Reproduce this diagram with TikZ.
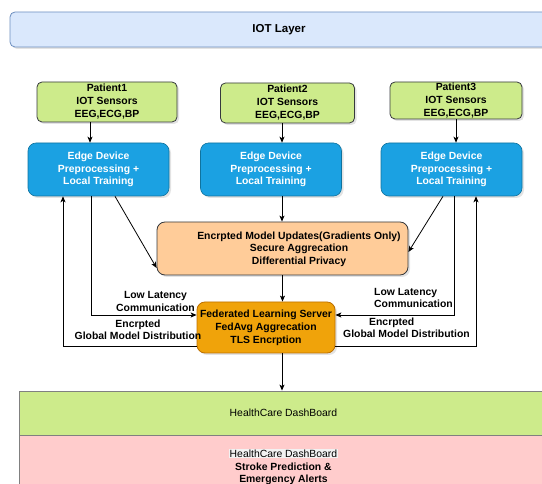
\documentclass[tikz,border=0pt]{standalone}
\usepackage{fontspec}
\setmainfont{Liberation Sans}
\usetikzlibrary{arrows.meta,shadows}

\definecolor{layerfill}{HTML}{DAE8FC}
\definecolor{layerline}{HTML}{6C8EBF}
\definecolor{limefill}{HTML}{CDEB8B}
\definecolor{darkline}{HTML}{36393D}
\definecolor{edgefill}{HTML}{1BA1E2}
\definecolor{edgeline}{HTML}{10739E}
\definecolor{peachfill}{HTML}{FFCC99}
\definecolor{amberfill}{HTML}{F0A30A}
\definecolor{amberline}{HTML}{BD7000}
\definecolor{pinkfill}{HTML}{FFCCCC}

\begin{document}
\begin{tikzpicture}[x=1pt, y=-1pt,
        boxshadow/.style={drop shadow={opacity=0.22, shadow xshift=2pt, shadow yshift=-2pt}},
        layer/.style={rectangle, rounded corners=5pt, draw=layerline, fill=layerfill, line width=0.8pt, boxshadow, inner sep=0pt},
        patient/.style={rectangle, rounded corners=5pt, draw=darkline, fill=limefill, line width=0.8pt, boxshadow, align=center, inner sep=0pt, font=\bfseries\fontsize{10.4}{13}\selectfont},
        edgedev/.style={rectangle, rounded corners=8pt, draw=edgeline, fill=edgefill, line width=0.6pt, boxshadow, align=center, inner sep=0pt, text=white, font=\bfseries\fontsize{10.4}{12.6}\selectfont},
        secure/.style={rectangle, rounded corners=8pt, draw=darkline, fill=peachfill, line width=0.8pt, boxshadow, inner sep=0pt},
        server/.style={rectangle, rounded corners=8pt, draw=amberline, fill=amberfill, line width=0.8pt, boxshadow, align=center, inner sep=0pt, font=\bfseries\fontsize{10.4}{13}\selectfont},
        boardbox/.style={rectangle, draw=gray, line width=0.8pt, inner sep=0pt},
        boxtext/.style={align=center, inner sep=0pt, font=\bfseries\fontsize{10.4}{12.6}\selectfont},
        linklabel/.style={inner sep=1pt, font=\bfseries\fontsize{10.4}{12.2}\selectfont},
        arr/.style={-{Stealth[length=6pt, width=5pt, inset=1.5pt]}, line width=0.8pt, draw=black}
        ]

        \useasboundingbox (0,0) rectangle (542,484);
        \clip (0,0) rectangle (542,484);

        % layers
        \node[layer, minimum width=538pt, minimum height=35pt, font=\bfseries\fontsize{11.5}{14}\selectfont] (iot) at (279,29.5) {IOT Layer};

        % patients
        \node[patient, minimum width=140pt, minimum height=40pt] (p1) at (107,102)   {Patient1\\IOT Sensors\\EEG,ECG,BP};
        \node[patient, minimum width=134pt, minimum height=40pt] (p2) at (287.5,103) {Patient2\\IOT Sensors\\EEG,ECG,BP};
        \node[patient, minimum width=132pt, minimum height=37pt] (p3) at (456,100.5) {Patient3\\IOT Sensors\\EEG,ECG,BP};

        % edge devices
        \node[edgedev, minimum width=141pt, minimum height=53pt] (edge1) at (98.5,169.5) {Edge Device\\Preprocessing +\\Local Training};
        \node[edgedev, minimum width=141pt, minimum height=53pt] (edge2) at (271,169.5)  {Edge Device\\Preprocessing +\\Local Training};
        \node[edgedev, minimum width=141pt, minimum height=53pt] (edge3) at (451.5,169.5) {Edge Device\\Preprocessing +\\Local Training};

        % aggregation and server
        \node[secure, minimum width=251pt, minimum height=53pt] (enc) at (282.5,248.5) {};
        \node[boxtext] (enctext) at (299,249) {Encrpted Model Updates(Gradients Only)\\Secure Aggrecation\\Differential Privacy};
        \node[server, minimum width=138pt, minimum height=51pt] (fl) at (266,327.5) {Federated Learning Server\\FedAvg Aggrecation\\TLS Encrption};

        % dashboard
        \node[boardbox, fill=limefill, minimum width=529pt, minimum height=44pt, font=\fontsize{10.4}{13}\selectfont] (board) at (283.5,413) {HealthCare DashBoard};
        \node[boardbox, fill=pinkfill, minimum width=529pt, minimum height=64pt, align=center, font=\bfseries\fontsize{10.4}{12.8}\selectfont] (alerts) at (283.5,467)
            {{\setlength{\fboxsep}{1pt}\colorbox{gray!10}{\mdseries HealthCare DashBoard}}\\Stroke Prediction \&\\Emergency Alerts};

        %Lines
        \draw[arr] ([xshift=-17pt]p1.south) -- ([xshift=-17pt]p1.south |- edge1.north);
        \draw[arr] ([xshift=-5.5pt]p2.south) -- ([xshift=-5.5pt]p2.south |- edge2.north);
        \draw[arr] (p3.south) -- (p3.south |- edge3.north);

        \draw[arr] ([xshift=16.5pt]edge1.south) -- ([yshift=-19.5pt]enc.west);
        \draw[arr] ([xshift=11pt]edge2.south) -- ([xshift=11pt]edge2.south |- enc.north);
        \draw[arr] ([xshift=-8.5pt]edge3.south) -- ([yshift=-3.5pt]enc.east);

        \draw[arr] (enc.south) -- (enc.south |- fl.north);

        \draw[arr] ([xshift=-7.5pt]edge1.south) |- ([yshift=12.5pt]fl.west);
        \draw[arr] ([yshift=-18.5pt]fl.west) -| ([xshift=-35.5pt]edge1.south);
        \draw[arr] ([xshift=2.5pt]edge3.south) |- ([yshift=12.5pt]fl.east);
        \draw[arr] ([yshift=-18.5pt]fl.east) -| ([xshift=24.5pt]edge3.south);

        \draw[arr] ([xshift=16pt]fl.south) -- ([xshift=16pt]fl.south |- board.north);

        % link labels
        \node[linklabel, align=center] (lowlatL) at (155.5,301.5) {Low Latency\\Communication};
        \node[linklabel, align=left, anchor=west] (lowlatR) at (373,298) {Low Latency\\Communication};
        \node[linklabel, align=center] (globalL) at (138,330) {Encrpted\\Global Model Distribution};
        \node[linklabel, align=left, anchor=west] (globalR) at (342,328) {\hspace*{26pt}Encrpted\\Global Model Distribution};

\end{tikzpicture}
\end{document}
